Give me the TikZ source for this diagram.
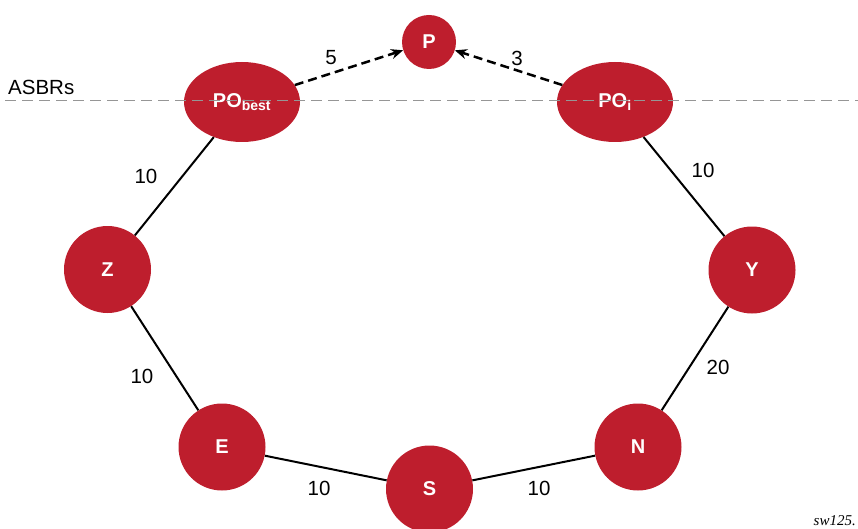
\documentclass[tikz,border=0pt]{standalone}
\usepackage{fontspec}
\setmainfont{Liberation Sans}
\newfontfamily\serifit{Liberation Serif}
\usetikzlibrary{arrows.meta,shapes.geometric}
\definecolor{nodered}{RGB}{190,30,45}
\definecolor{asbrgray}{RGB}{150,150,150}
\begin{document}
\begin{tikzpicture}[x=1pt,y=-1pt,
  router/.style={circle,fill=nodered,draw=none,minimum size=87pt,inner sep=0pt,text=white,font=\fontsize{20}{24}\selectfont\bfseries},
  po/.style={ellipse,fill=nodered,draw=none,minimum width=116pt,minimum height=80pt,inner sep=0pt,text=white,font=\fontsize{20}{24}\selectfont\bfseries},
  link/.style={line width=2pt,black},
  pref/.style={line width=2.5pt,black,dash pattern=on 9pt off 5pt,-{Stealth[length=12pt,width=10pt]}},
  lbl/.style={font=\fontsize{20.5}{24}\selectfont,inner sep=0pt}
]
\useasboundingbox (0,0) rectangle (858,529);
\node[router,minimum size=54pt] (P) at (429,42) {P};
\node[po] (POb) at (242,102) {PO\textsubscript{\fontsize{14}{16}\selectfont best}};
\node[po] (POi) at (615,102) {PO\textsubscript{\fontsize{14}{16}\selectfont i}};
\node[router] (Z) at (107.5,269.5) {Z};
\node[router] (Y) at (752,270) {Y};
\node[router] (E) at (222,447) {E};
\node[router] (N) at (638,447) {N};
\node[router] (S) at (429.5,489) {S};
\draw[link] (POb) -- (Z);
\draw[link] (Z) -- (E);
\draw[link] (E) -- (S);
\draw[link] (S) -- (N);
\draw[link] (N) -- (Y);
\draw[link] (Y) -- (POi);
\draw[pref] (POb) -- (P);
\draw[pref] (POi) -- (P);
\coordinate (asbrL) at (5,101);
\coordinate (asbrR) at (858,101);
\draw[asbrgray,line width=1pt,dash pattern=on 11pt off 6pt] (asbrL) -- (asbrR);
\node[lbl,anchor=base west] (asbr) at (8,95) {ASBRs};
\node[lbl] (l5) at (331,58) {5};
\node[lbl] (l3) at (517,58) {3};
\node[lbl] (l1) at (146,176) {10};
\node[lbl] (l2) at (142,376) {10};
\node[lbl] (l3b) at (319,488) {10};
\node[lbl] (l4) at (539,488) {10};
\node[lbl] (l6) at (718,367) {20};
\node[lbl] (l7) at (703,170) {10};
\node[font=\fontsize{15}{18}\selectfont\serifit\itshape,inner sep=0pt,anchor=base east] (sw) at (856,525) {sw125.};
\end{tikzpicture}
\end{document}
